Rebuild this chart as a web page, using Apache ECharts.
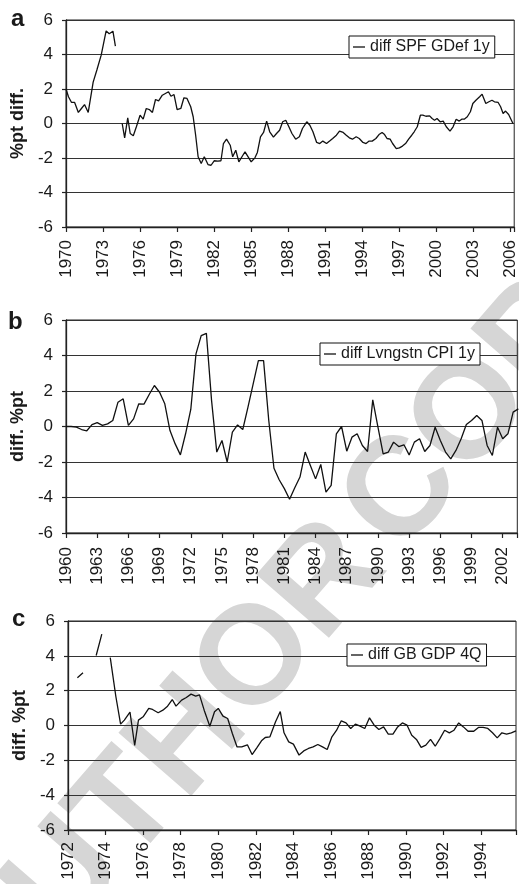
<!DOCTYPE html>
<html>
<head>
<meta charset="utf-8">
<script src="https://cdn.jsdelivr.net/npm/echarts@6/dist/echarts.min.js"></script>
<style>
html,body{margin:0;padding:0;background:#fff;}
#chart{width:519px;height:884px;}
</style>
</head>
<body>
<div id="chart"></div>
<script>
// ---------- Panel a: diff SPF GDef 1y ----------
const aTickLabels = ['1970','1973','1976','1979','1982','1985','1988','1991','1994','1997','2000','2003','2006'];
const aYears = [1970.0,1970.2,1970.45,1970.7,1971.0,1971.25,1971.5,1971.8,1972.2,1972.5,1972.85,1973.25,1973.5,1973.8,1974.0,1974.25,
1974.55,1974.75,1975.0,1975.2,1975.45,1975.7,1976.0,1976.25,1976.5,1976.75,1977.0,1977.25,1977.5,1977.8,1978.05,1978.3,1978.5,1978.75,
1979.0,1979.3,1979.55,1979.8,1980.1,1980.3,1980.5,1980.7,1980.95,1981.2,1981.5,1981.75,1982.0,1982.3,1982.55,1982.75,1983.0,1983.3,
1983.5,1983.75,1984.0,1984.3,1984.5,1984.75,1985.0,1985.3,1985.5,1985.75,1986.0,1986.25,1986.5,1986.8,1987.05,1987.3,1987.55,1987.8,
1988.05,1988.3,1988.6,1988.9,1989.15,1989.5,1989.75,1990.0,1990.3,1990.55,1990.8,1991.1,1991.35,1991.6,1991.9,1992.15,1992.45,1992.7,
1992.95,1993.2,1993.5,1993.75,1994.05,1994.3,1994.55,1994.8,1995.1,1995.35,1995.6,1995.8,1996.0,1996.25,1996.45,1996.75,1997.0,1997.25,
1997.5,1997.75,1998.0,1998.2,1998.45,1998.7,1998.9,1999.15,1999.45,1999.65,1999.85,2000.05,2000.3,2000.55,2000.8,2001.1,2001.35,2001.6,
2001.85,2002.05,2002.25,2002.5,2002.75,2002.95,2003.2,2003.5,2003.7,2004.0,2004.25,2004.5,2004.7,2005.0,2005.2,2005.4,2005.6,2005.85,2006.2];
const aValues = [2.0,1.55,1.22,1.22,0.64,0.87,1.1,0.64,2.4,3.1,3.96,5.37,5.2,5.35,4.48,null,
0.0,-0.83,0.33,-0.58,-0.71,-0.19,0.48,0.25,0.87,0.81,0.64,1.39,1.31,1.64,1.74,1.84,1.58,1.68,
0.81,0.87,1.49,1.45,0.97,0.39,-0.68,-1.93,-2.32,-1.93,-2.38,-2.42,-2.16,-2.18,-2.16,-1.16,-0.91,-1.26,
-1.93,-1.55,-2.22,-1.87,-1.64,-1.93,-2.22,-1.99,-1.68,-0.77,-0.52,0.14,-0.48,-0.79,-0.58,-0.39,0.1,0.19,
-0.19,-0.58,-0.91,-0.77,-0.29,0.1,-0.1,-0.48,-1.1,-1.16,-1.02,-1.16,-1.02,-0.87,-0.68,-0.44,-0.52,-0.68,
-0.83,-0.91,-0.77,-0.87,-1.1,-1.16,-1.02,-1.02,-0.87,-0.64,-0.52,-0.64,-0.87,-0.91,-1.16,-1.45,-1.41,-1.31,
-1.16,-0.91,-0.68,-0.48,-0.19,0.48,0.48,0.42,0.44,0.29,0.19,0.29,0.1,0.14,-0.19,-0.44,-0.19,0.25,
0.14,0.25,0.25,0.39,0.68,1.16,1.35,1.55,1.7,1.16,1.26,1.35,1.26,1.22,0.97,0.58,0.72,0.52,0.0];

// ---------- Panel b: diff Lvngstn CPI 1y ----------
const bTickLabels = ['1960','1963','1966','1969','1972','1975','1978','1981','1984','1987','1990','1993','1996','1999','2002'];
const bYears = [1960.0,1960.5,1961.0,1961.5,1962.0,1962.5,1963.0,1963.5,1964.0,1964.5,1965.0,1965.5,1966.0,1966.5,1967.0,1967.5,
1968.0,1968.5,1969.0,1969.5,1970.0,1970.5,1971.0,1971.5,1972.0,1972.5,1973.0,1973.5,1974.0,1974.5,1975.0,1975.5,1976.0,1976.5,
1977.0,1977.5,1978.0,1978.5,1979.0,1979.5,1980.0,1980.5,1981.0,1981.5,1982.0,1982.5,1983.0,1983.5,1984.0,1984.5,1985.0,1985.5,
1986.0,1986.5,1987.0,1987.5,1988.0,1988.5,1989.0,1989.5,1990.0,1990.5,1991.0,1991.5,1992.0,1992.5,1993.0,1993.5,1994.0,1994.5,
1995.0,1995.5,1996.0,1996.5,1997.0,1997.5,1998.0,1998.5,1999.0,1999.5,2000.0,2000.5,2001.0,2001.5,2002.0,2002.5,2003.0,2003.5];
const bValues = [0,0,-0.04,-0.17,-0.24,0.11,0.22,0.06,0.15,0.34,1.37,1.56,0.06,0.43,1.28,1.26,
1.8,2.31,1.93,1.28,-0.23,-0.98,-1.6,-0.41,0.96,4.09,5.12,5.25,1.46,-1.44,-0.79,-2.0,-0.32,0.09,
-0.17,1.09,2.4,3.71,3.71,0.34,-2.35,-3.0,-3.5,-4.1,-3.45,-2.85,-1.44,-2.2,-2.95,-2.14,-3.7,-3.32,
-0.41,0.0,-1.39,-0.6,-0.41,-1.07,-1.41,1.5,-0.04,-1.54,-1.44,-0.88,-1.13,-1.03,-1.6,-0.88,-0.69,-1.41,
-1.07,-0.04,-0.79,-1.44,-1.82,-1.35,-0.69,0.11,0.34,0.62,0.34,-1.07,-1.63,-0.04,-0.69,-0.41,0.81,0.99];

// ---------- Panel c: diff GB GDP 4Q ----------
const cTickLabels = ['1972','1974','1976','1978','1980','1982','1984','1986','1988','1990','1992','1994'];
const cYears = [1972.5,1972.8,1973.1,1973.5,1973.8,1974.0,1974.25,1974.55,1974.8,1975.0,1975.3,1975.55,1975.75,1976.0,1976.3,1976.5,
1976.8,1977.05,1977.3,1977.55,1977.75,1978.05,1978.3,1978.55,1978.8,1979.0,1979.25,1979.55,1979.8,1980.0,1980.25,1980.5,
1980.75,1981.0,1981.25,1981.55,1981.8,1982.05,1982.3,1982.5,1982.75,1983.05,1983.3,1983.5,1983.75,1984.0,1984.3,1984.55,
1984.8,1985.05,1985.3,1985.55,1985.8,1986.05,1986.3,1986.55,1986.8,1987.05,1987.3,1987.55,1987.8,1988.05,1988.3,1988.55,
1988.8,1989.05,1989.3,1989.55,1989.8,1990.05,1990.3,1990.55,1990.8,1991.05,1991.3,1991.55,1991.8,1992.05,1992.3,1992.55,
1992.8,1993.05,1993.3,1993.6,1993.85,1994.1,1994.35,1994.6,1994.85,1995.1,1995.35,1995.6,1995.85];
const cValues = [2.74,3.03,null,4.02,5.25,null,3.9,1.65,0.08,0.31,0.77,-1.15,0.31,0.5,0.98,0.92,
0.73,0.88,1.11,1.49,1.11,1.46,1.61,1.8,1.69,1.76,0.88,-0.04,0.79,0.98,0.54,0.4,
-0.46,-1.23,-1.23,-1.11,-1.67,-1.28,-0.88,-0.69,-0.65,0.21,0.8,-0.42,-0.94,-1.07,-1.7,-1.46,
-1.32,-1.23,-1.09,-1.23,-1.38,-0.65,-0.27,0.27,0.15,-0.17,0.08,-0.04,-0.17,0.44,0.02,-0.23,
-0.08,-0.5,-0.5,-0.08,0.15,0.02,-0.56,-0.8,-1.26,-1.13,-0.8,-1.19,-0.75,-0.27,-0.42,-0.27,
0.15,-0.08,-0.33,-0.33,-0.11,-0.11,-0.17,-0.42,-0.71,-0.42,-0.5,-0.42,-0.31];

const seriesNames = ['diff SPF GDef 1y','diff Lvngstn CPI 1y','diff GB GDP 4Q'];
const yAxisNames = ['%pt diff.','diff. %pt','diff. %pt'];
const panelLetters = ['a','b','c'];
const watermarkWords = ['AUTHOR','COPY'];

const FONT = '"Liberation Sans", Arial, Helvetica, sans-serif';
const INK = '#1a1a1a';

const panels = [
  {years:aYears, vals:aValues, ticks:aTickLabels, base:1970, step:3, max:36.3,
   grid:{left:66, top:20, width:452.7, height:207}, labelMargin:13, legend:{left:349, top:36}},
  {years:bYears, vals:bValues, ticks:bTickLabels, base:1960, step:3, max:43.4,
   grid:{left:66, top:320, width:451.3, height:213}, labelMargin:14, legend:{left:320, top:343}},
  {years:cYears, vals:cValues, ticks:cTickLabels, base:1972, step:2, max:23.85,
   grid:{left:68, top:621, width:448, height:209}, labelMargin:12, legend:{left:347, top:644}}
];

const grids = [], xAxes = [], yAxes = [], series = [], legends = [];
panels.forEach((p, i) => {
  grids.push(Object.assign({show:true, borderColor:'#222', borderWidth:1, backgroundColor:'transparent'}, p.grid));
  xAxes.push({
    type:'value', gridIndex:i, min:0, max:p.max, interval:p.step,
    axisLine:{show:true, onZero:false, lineStyle:{color:'#222', width:1.3}},
    axisTick:{show:true, length:5, lineStyle:{color:'#222', width:1.2}},
    splitLine:{show:false},
    axisLabel:{
      rotate:90, margin:p.labelMargin, fontSize:17, color:INK, fontFamily:FONT,
      showMinLabel:true, showMaxLabel:true,
      formatter:(v) => {
        const k = v / p.step;
        if (Math.abs(k - Math.round(k)) > 1e-6) return '';
        return p.ticks[Math.round(k)] || '';
      }
    }
  });
  yAxes.push({
    type:'value', gridIndex:i, min:-6, max:6, interval:2,
    name:yAxisNames[i], nameLocation:'middle', nameRotate:90, nameGap:39,
    nameTextStyle:{fontSize:18, fontWeight:'bold', color:INK, fontFamily:FONT},
    axisLine:{show:true, lineStyle:{color:'#222', width:1.3}},
    axisTick:{show:true, length:4, lineStyle:{color:'#222', width:1.2}},
    splitLine:{show:true, lineStyle:{color:'#333', width:1}},
    axisLabel:{fontSize:17, color:INK, fontFamily:FONT, margin:13}
  });
  series.push({
    name:seriesNames[i], type:'line', xAxisIndex:i, yAxisIndex:i,
    symbol:'none', connectNulls:false, z:3,
    lineStyle:{color:'#111', width:1.3},
    itemStyle:{color:'#111'},
    data:p.years.map((y, j) => [y - p.base, p.vals[j] === null ? '-' : p.vals[j]])
  });
  legends.push({
    data:[seriesNames[i]], left:p.legend.left, top:p.legend.top, orient:'horizontal',
    icon:'rect', itemWidth:12, itemHeight:1.3, itemGap:5,
    padding:[3,5,3,4], backgroundColor:'#fff', borderColor:'#111', borderWidth:1, borderRadius:0,
    textStyle:{fontSize:16, color:INK, fontFamily:FONT, padding:[0,0,0,0]},
    selectedMode:false
  });
});

const WM_ROT = 49 * Math.PI / 180;
const WM_FONT = 'bold 140px ' + FONT;
const WM_FILL = '#d6d6d6';
const graphics = [
  {type:'text', x:360, y:543, rotation:WM_ROT, z:-10, silent:true,
   style:{text:watermarkWords[0], font:WM_FONT, fill:WM_FILL, textAlign:'right', textVerticalAlign:'middle'}},
  {type:'text', x:370, y:532, rotation:WM_ROT, z:-10, silent:true,
   style:{text:watermarkWords[1], font:WM_FONT, fill:WM_FILL, textAlign:'left', textVerticalAlign:'middle'}},
  {type:'text', x:11, y:19, style:{text:panelLetters[0], font:'bold 24px ' + FONT, fill:INK, textAlign:'left', textVerticalAlign:'middle'}},
  {type:'text', x:8, y:322, style:{text:panelLetters[1], font:'bold 24px ' + FONT, fill:INK, textAlign:'left', textVerticalAlign:'middle'}},
  {type:'text', x:12, y:619, style:{text:panelLetters[2], font:'bold 24px ' + FONT, fill:INK, textAlign:'left', textVerticalAlign:'middle'}}
];

const chart = echarts.init(document.getElementById('chart'), null, {renderer:'canvas'});
chart.setOption({
  animation:false,
  backgroundColor:'#fff',
  textStyle:{fontFamily:FONT},
  grid:grids, xAxis:xAxes, yAxis:yAxes, series:series, legend:legends,
  graphic:graphics
});
</script>
</body>
</html>
